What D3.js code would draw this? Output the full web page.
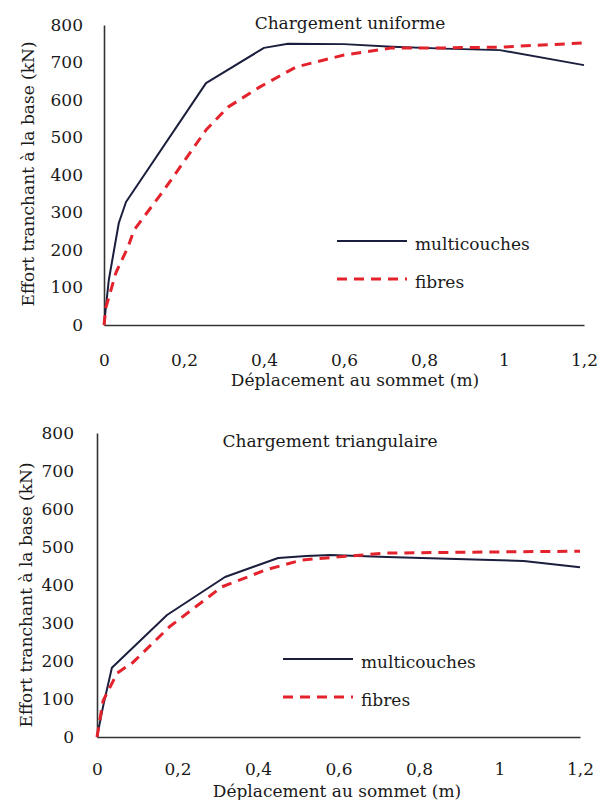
<!DOCTYPE html>
<html><head><meta charset="utf-8">
<script src="https://cdn.jsdelivr.net/npm/d3@7"></script>
<style>body{margin:0;background:#fff}svg{display:block}text{font-family:"DejaVu Serif",serif;fill:#1a1a1a}</style>
</head><body><svg id="c" width="607" height="800"></svg>
<script>
// ---- data ----
const xTicks = [0, 0.2, 0.4, 0.6, 0.8, 1, 1.2];
const yTicks = [0, 100, 200, 300, 400, 500, 600, 700, 800];
const seriesNames = ["multicouches", "fibres"];
const titles = ["Chargement uniforme", "Chargement triangulaire"];
const xLabel = "Déplacement au sommet (m)";
const yLabel = "Effort tranchant à la base (kN)";

// Chargement uniforme
const uniMultiX = [0, 0.012, 0.037, 0.055, 0.255, 0.40, 0.46, 0.60, 0.72, 0.85, 0.99, 1.2];
const uniMultiY = [0, 120, 272, 328, 645, 739, 750, 749, 742, 737, 733, 693];
const uniFibX = [0, 0.005, 0.03, 0.06, 0.075, 0.15, 0.255, 0.31, 0.39, 0.48, 0.6, 0.72, 0.85, 0.99, 1.2];
const uniFibY = [0, 48, 140, 208, 253, 360, 520, 581, 635, 688, 720, 739, 739, 741, 752];

// Chargement triangulaire
const triMultiX = [0, 0.015, 0.037, 0.174, 0.318, 0.45, 0.52, 0.58, 0.72, 0.98, 1.06, 1.2];
const triMultiY = [0, 80, 182, 321, 421, 471, 476, 479, 474, 466, 463, 447];
const triFibX = [0, 0.015, 0.05, 0.09, 0.18, 0.31, 0.42, 0.51, 0.6, 0.72, 0.99, 1.2];
const triFibY = [0, 95, 168, 197, 290, 395, 440, 466, 474, 484, 487, 489];

// ---- drawing ----
const svg = d3.select("#c");
const fr = d3.formatLocale({decimal: ",", thousands: " ", grouping: [3], currency: ["", "€"]});
const fmt = fr.format("~g");
const colors = {multicouches: "#1b1e3c", fibres: "#e3222b"};

const panels = [
  {x0: 104, x1: 584, y0: 325, y1: 25, yAxisPad: 21, xAxisPad: 29, title: titles[0], titleX: 350, titleY: 29,
   xTitleX: 355, xTitleY: 386, yTitleX: 28, yTitleY: 174,
   legX: 337, legY: 241,
   series: [[uniMultiX, uniMultiY], [uniFibX, uniFibY]]},
  {x0: 97, x1: 580, y0: 737, y1: 433, yAxisPad: 23, xAxisPad: 26, title: titles[1], titleX: 330, titleY: 447,
   xTitleX: 337, xTitleY: 797, yTitleX: 26, yTitleY: 595,
   legX: 283, legY: 659,
   series: [[triMultiX, triMultiY], [triFibX, triFibY]]}
];

panels.forEach(p => {
  const x = d3.scaleLinear().domain([0, 1.2]).range([p.x0, p.x1]);
  const y = d3.scaleLinear().domain([0, 800]).range([p.y0, p.y1]);
  const g = svg.append("g");

  const ax = g.append("g").attr("transform", `translate(0,${p.y0})`)
    .call(d3.axisBottom(x).tickValues(xTicks).tickFormat(fmt).tickSize(0).tickPadding(p.xAxisPad));
  const ay = g.append("g").attr("transform", `translate(${p.x0},0)`)
    .call(d3.axisLeft(y).tickValues(yTicks).tickFormat(d3.format("d")).tickSize(0).tickPadding(p.yAxisPad));
  [ax, ay].forEach(a => {
    a.select(".domain").attr("stroke", "#333").attr("stroke-width", 1.6);
    a.selectAll("text").style("font-family", '"DejaVu Serif", serif').style("font-size", "17px").attr("fill", "#1a1a1a");
  });

  g.append("text").attr("x", p.titleX).attr("y", p.titleY).attr("text-anchor", "middle")
    .style("font-size", "17px").text(p.title);
  g.append("text").attr("x", p.xTitleX).attr("y", p.xTitleY).attr("text-anchor", "middle")
    .style("font-size", "17px").text(xLabel);
  g.append("text").attr("transform", `translate(${p.yTitleX},${p.yTitleY}) rotate(-90)`)
    .attr("text-anchor", "middle").attr("dy", "0.35em").style("font-size", "17px").text(yLabel);

  const line = d3.line().x(d => x(d[0])).y(d => y(d[1]));
  p.series.forEach((s, i) => {
    const pts = s[0].map((v, k) => [v, s[1][k]]);
    const name = seriesNames[i];
    g.append("path").datum(pts).attr("d", line).attr("fill", "none")
      .attr("stroke", colors[name]).attr("stroke-width", i === 0 ? 2 : 3)
      .attr("stroke-dasharray", i === 0 ? null : "10,7")
      .attr("stroke-linejoin", "round");
    const ly = p.legY + i * 38;
    g.append("line").attr("x1", p.legX).attr("x2", p.legX + 70).attr("y1", ly).attr("y2", ly)
      .attr("stroke", colors[name]).attr("stroke-width", i === 0 ? 2 : 3)
      .attr("stroke-dasharray", i === 0 ? null : "10,7");
    g.append("text").attr("x", p.legX + 78).attr("y", ly + 9).style("font-size", "17px").text(name);
  });
});
</script></body></html>
